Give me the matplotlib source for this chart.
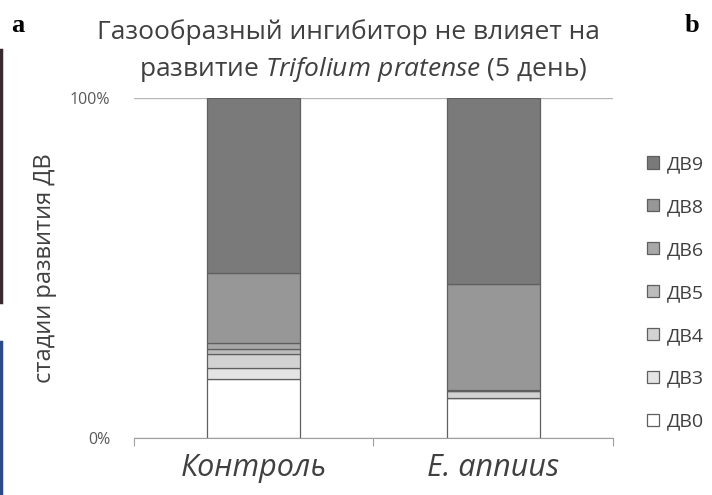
import matplotlib
matplotlib.use("Agg")
import matplotlib.pyplot as plt
from matplotlib.lines import Line2D
import numpy as np

plt.rcParams['font.family'] = ['Open Sans', 'DejaVu Sans']
plt.rcParams['mathtext.fontset'] = 'custom'
plt.rcParams['mathtext.rm'] = 'Open Sans'
plt.rcParams['mathtext.it'] = 'Open Sans:italic'

# данные (доли стадий, %)
groupes = ["Контроль", "E. annuus"]
stades = ["ДВ0", "ДВ3", "ДВ4", "ДВ5", "ДВ6", "ДВ8", "ДВ9"]
dv0 = [17.4, 11.9]
dv3 = [3.2, 0.0]
dv4 = [4.1, 1.8]
dv5 = [1.6, 0.0]
dv6 = [1.6, 0.3]
dv8 = [20.6, 31.4]
dv9 = [51.5, 54.6]
series = [dv0, dv3, dv4, dv5, dv6, dv8, dv9]
couleurs = ['#ffffff', '#e4e4e4', '#d2d2d2', '#bcbcbc', '#a8a8a8', '#979797', '#7a7a7a']

fig = plt.figure(figsize=(7.12, 4.95), dpi=100)
ax = fig.add_axes([0.188, 0.115, 0.673, 0.687])

x = np.arange(len(groupes))
bas = np.zeros(len(groupes))
barres = []
for nom, vals, c in zip(stades, series, couleurs):
    b = ax.bar(x, vals, bottom=bas, width=0.39, color=c, edgecolor='#5f5f5f',
               linewidth=0.9, label=nom)
    barres.append(b)
    bas += np.array(vals)

ax.set_xlim(-0.5, 1.5)
ax.set_ylim(0, 100)
ax.set_yticks([0, 100])
ax.set_yticklabels(["0%", "100%"], fontsize=11.5, color='#595959')
ax.tick_params(axis='y', length=0, pad=17)
ax.yaxis.grid(True, color='#b8b8b8', linewidth=1)
ax.set_axisbelow(True)

ax.set_xticks([-0.5, 0.5, 1.5])
ax.set_xticklabels([])
ax.tick_params(axis='x', which='major', length=6, color='#a0a0a0', direction='out')
ax.set_xticks(x, minor=True)
ax.set_xticklabels(groupes, minor=True, fontsize=22, style='italic', color='#404040')
ax.tick_params(axis='x', which='minor', length=0, pad=11)

for s in ['left', 'right', 'top']:
    ax.spines[s].set_visible(False)
ax.spines['bottom'].set_color('#a0a0a0')

ax.set_ylabel("стадии развития ДВ", fontsize=17, color='#404040')
ax.yaxis.set_label_coords(-0.16, 0.5)

fig.text(0.49, 0.935, "Газообразный ингибитор не влияет на", ha='center', va='center',
         fontsize=19, color='#404040')
fig.text(0.51, 0.86, r"развитие $\mathit{Trifolium\ pratense}$ (5 день)", ha='center',
         va='center', fontsize=19, color='#404040')

fig.text(0.016, 0.948, "a", fontsize=19, fontweight='bold', family='Liberation Serif', va='center')
fig.text(0.962, 0.948, "b", fontsize=19, fontweight='bold', family='Liberation Serif', va='center')

# bordure du panneau voisin
fig.add_artist(Line2D([0.002, 0.002], [0.39, 0.9], color='#3a2a30', linewidth=2.5))
fig.add_artist(Line2D([0.002, 0.002], [0.0, 0.31], color='#2a4a8a', linewidth=2.5))

handles = barres[::-1]
leg = ax.legend(handles, stades[::-1], loc='center left', bbox_to_anchor=(1.035, 0.427),
                frameon=False, fontsize=14, labelspacing=1.28, handlelength=0.6,
                handleheight=0.6, handletextpad=0.4, labelcolor='#404040')

fig.savefig("out.png", dpi=100)
